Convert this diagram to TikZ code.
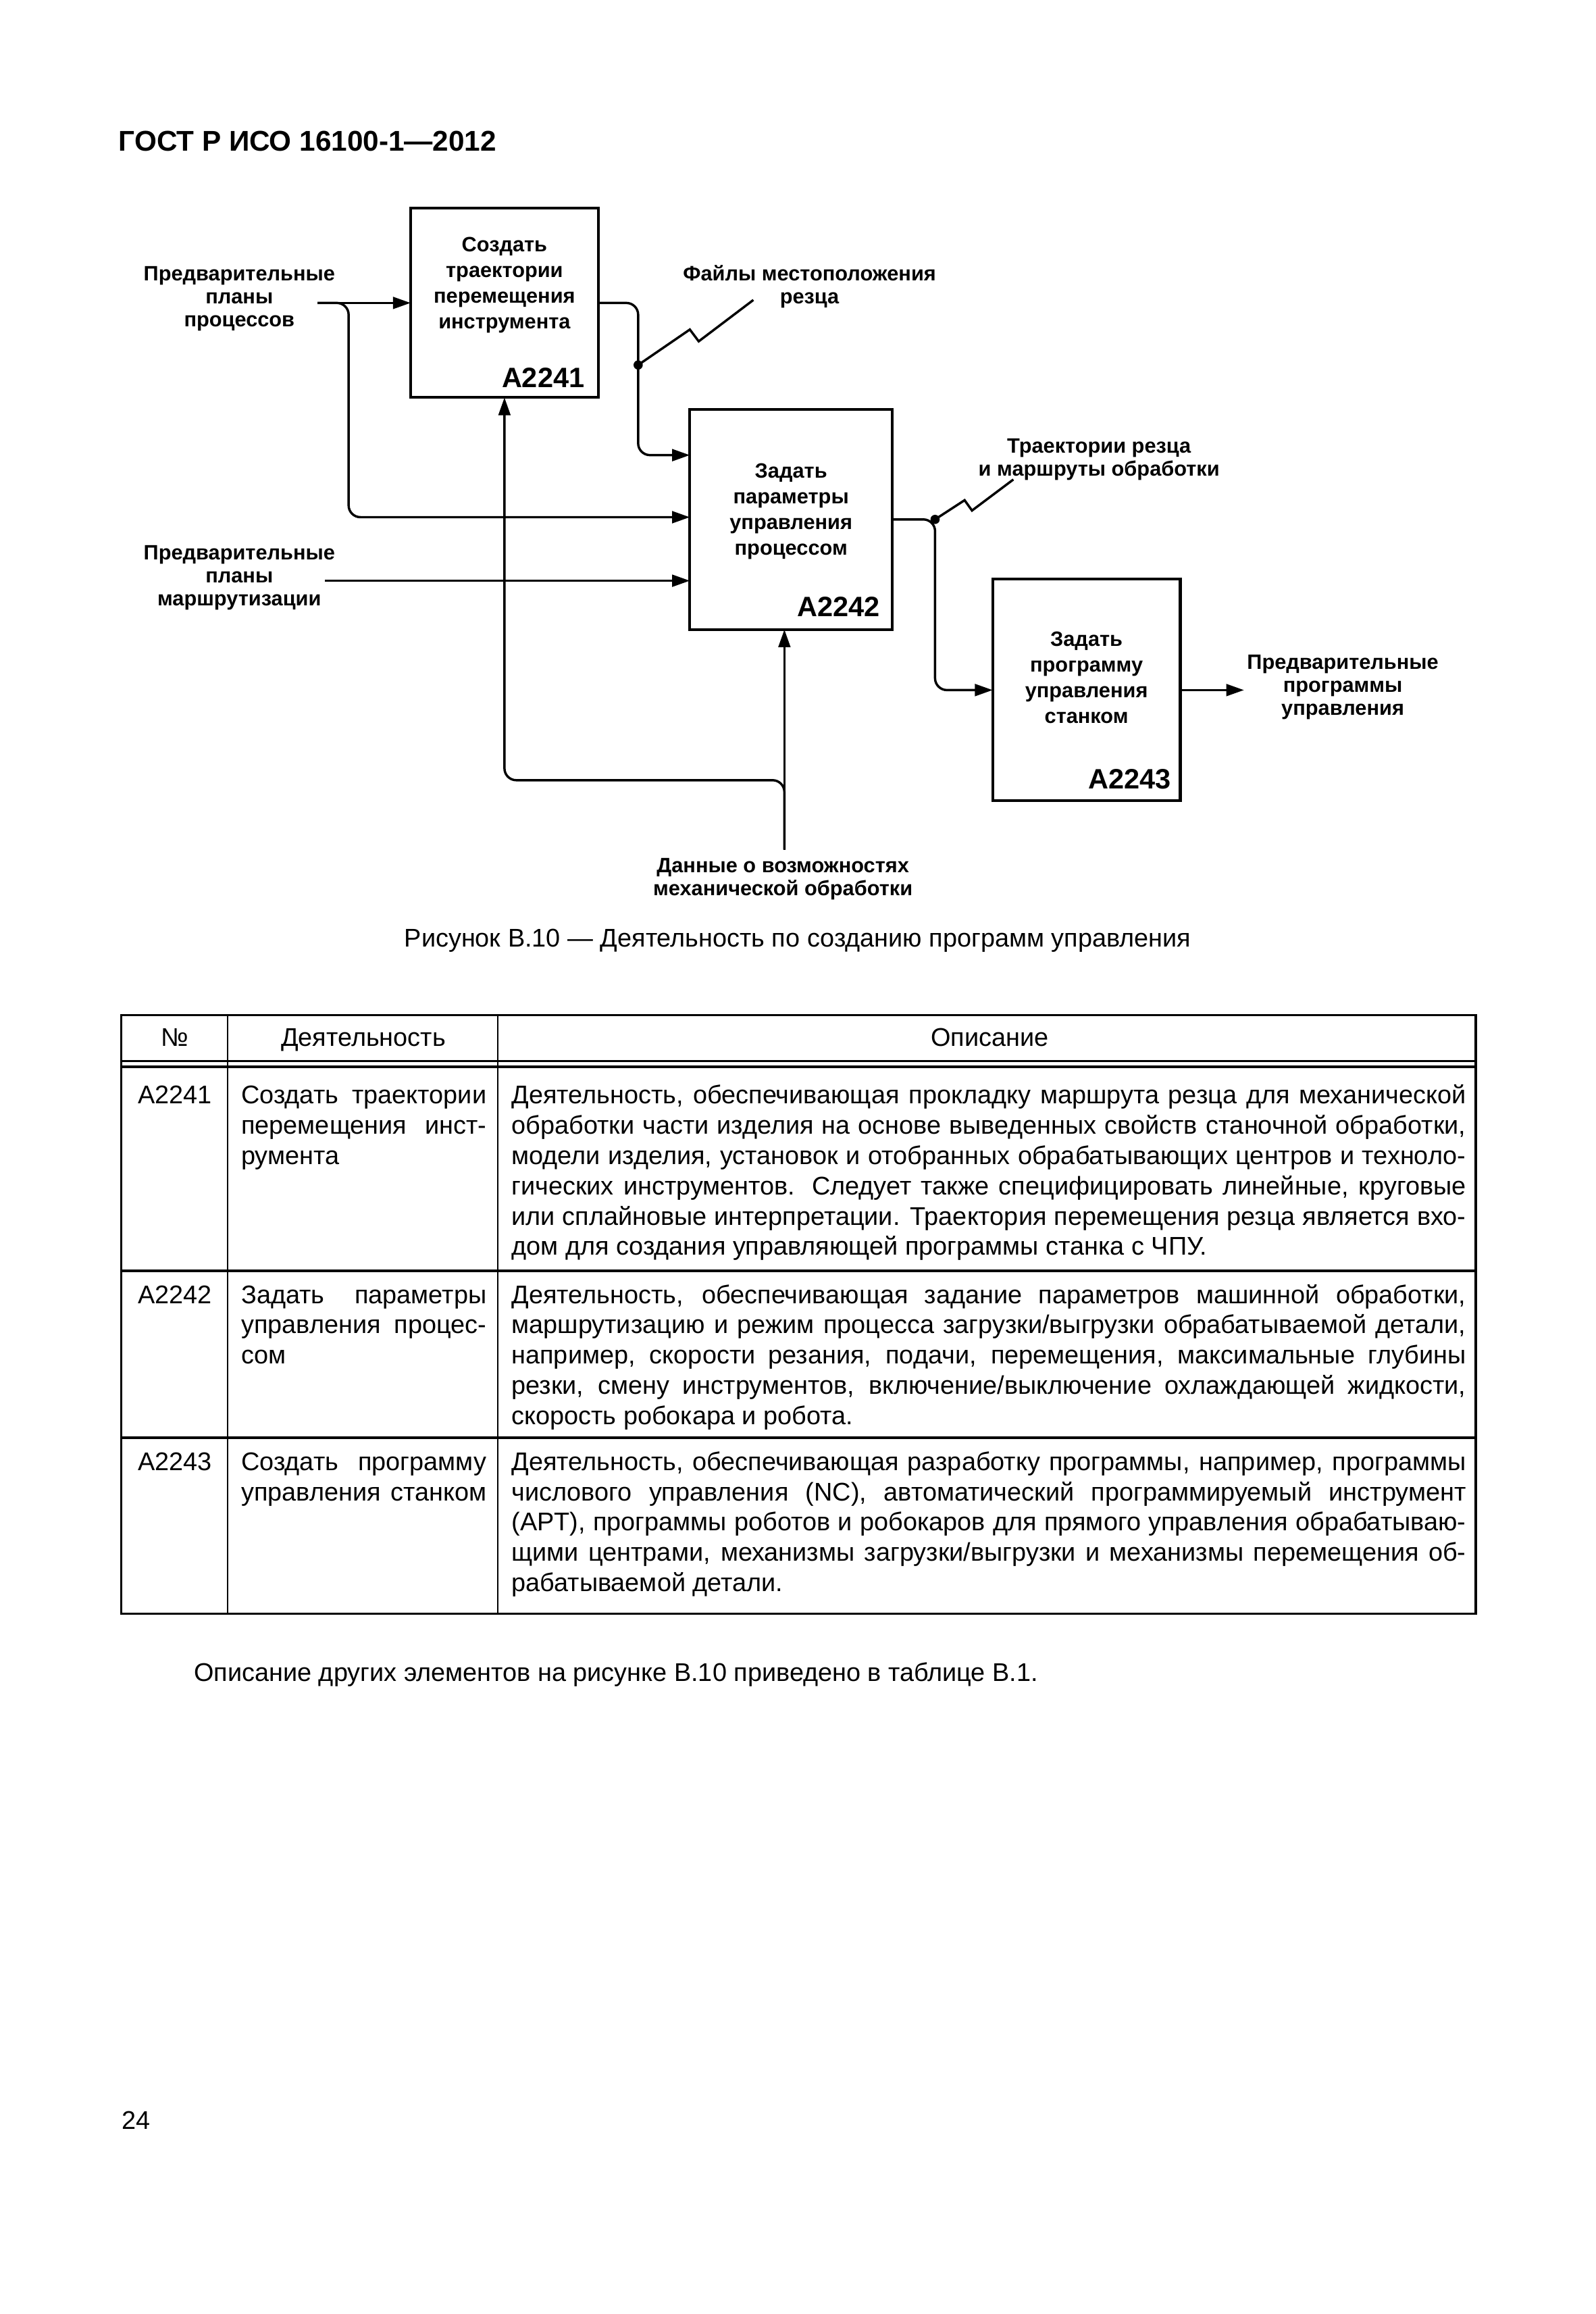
\documentclass[tikz,border=0pt]{standalone}
\usepackage{fontspec}
\setmainfont{Liberation Sans}
\usetikzlibrary{arrows.meta,calc,positioning}
\newcommand{\jl}[1]{\makebox[\linewidth][s]{#1}}
\tikzset{
	box/.style={draw, line width=1.05pt, inner sep=0pt, outer sep=0pt},
	boxtext/.style={font=\bfseries\fontsize{8}{9.85}\selectfont, align=center, inner sep=0pt},
	boxid/.style={font=\bfseries\fontsize{10.8}{13}\selectfont, anchor=base east, inner sep=0pt},
	flowlabel/.style={font=\bfseries\fontsize{8}{8.8}\selectfont, align=center, inner sep=1pt},
	wire/.style={line width=0.9pt, rounded corners=1.6mm},
	ar/.style={wire, -{Triangle[length=2.4mm,width=1.6mm]}},
	zig/.style={line width=0.9pt},
	dot/.style={circle, fill, inner sep=0pt, minimum size=1.25mm},
	txt/.style={font=\fontsize{9.85}{11.66}\selectfont, inner sep=0pt},
	cell/.style={txt, anchor=base west},
	tline/.style={line width=0.85pt},
	tcol/.style={line width=0.6pt}
}
\begin{document}
\begin{tikzpicture}[x=0.2mm, y=-0.2mm]
	\useasboundingbox[fill=white] (0,0) rectangle (1080,1566);
	\node[txt, font=\bfseries\fontsize{11}{13}\selectfont, anchor=base west] (hdr) at (80,102) {ГОСТ Р ИСО 16100-1—2012};

	% activity boxes
	\node[box, minimum width=25.4mm, minimum height=25.6mm] (b1) at (341.5,205) {};
	\node[box, minimum width=27.4mm, minimum height=29.8mm] (b2) at (535.5,351.5) {};
	\node[box, minimum width=25.4mm, minimum height=30mm] (b3) at (735.5,467) {};
	\node[boxtext] (b1t) at (341.5,193) {Создать\\траектории\\перемещения\\инструмента};
	\node[boxtext] (b2t) at (535.5,346) {Задать\\параметры\\управления\\процессом};
	\node[boxtext] (b3t) at (735.5,458.5) {Задать\\программу\\управления\\станком};
	\node[boxid] (b1id) at ($(b1.south east)+(-9,-7)$) {A2241};
	\node[boxid] (b2id) at ($(b2.south east)+(-8,-9)$) {A2242};
	\node[boxid] (b3id) at ($(b3.south east)+(-6,-8)$) {A2243};

	% arrow labels
	\node[flowlabel] (i1) at (162,202) {Предварительные\\планы\\процессов};
	\node[flowlabel] (i2) at (162,391) {Предварительные\\планы\\маршрутизации};
	\node[flowlabel] (m1) at (548,194) {Файлы местоположения\\резца};
	\node[flowlabel] (m2) at (744,311) {Траектории резца\\и маршруты обработки};
	\node[flowlabel] (o3) at (909,465) {Предварительные\\программы\\управления};
	\node[flowlabel] (c2) at (530,595) {Данные о возможностях\\механической обработки};

	\coordinate (p1) at (215,205);
	\coordinate (p2) at (220,393);
	\coordinate (p4) at (531,575);
	\coordinate (k1) at (236,350);
	\coordinate (k2) at (432,308);
	\coordinate (k4) at (531,528);
	\coordinate (t2) at (633,351.5);

	\draw[ar] (p1) -- (b1.west);
	\draw[ar] (p1) -| (k1) -- (k1 -| b2.west);
	\draw[ar] (p2) -- (p2 -| b2.west);
	\draw[ar] (b1.east) -| (k2) -- (k2 -| b2.west);
	\draw[ar] (b2.east) -| (t2 |- b3.west) -- (b3.west);
	\draw[ar] (b3.east) -- (b3.east -| o3.west);
	\draw[ar] (p4) -- (p4 |- b2.south);
	\draw[ar] (p4) -- (k4) -| (b1.south);

	% tunnel marks
	\node[dot] (d1) at (432,247) {};
	\node[dot] (d2) at (t2) {};
	\draw[zig] (d1.center) -- ++(35,-24) -- ++(6,8) -- ++(37,-28);
	\draw[zig] (d2.center) -- ++(20,-13) -- ++(5,7) -- ++(28,-21);

	\node[txt, anchor=base] (cap) at (540,641) {Рисунок В.10 — Деятельность по созданию программ управления};

	% table
	\draw[tline] (82,687) rectangle (999,1092);
	\foreach \y in {718,722,860,973}
		\draw[tline] (82,\y) -- (999,\y);
	\foreach \x in {154,337}
		\draw[tcol] (\x,687) -- (\x,1092);

	\node[txt, anchor=base] (h1) at (118.5,708) {№};
	\node[txt, anchor=base] (h2) at (246,708) {Деятельность};
	\node[txt, anchor=base] (h3) at (670,708) {Описание};

	\node[txt, anchor=base] (n1) at (118.5,747) {A2241};
	\node[cell] (a1) at (163,747) {\parbox[t]{33.2mm}{\jl{Создать траектории}\\\jl{перемещения инст-}\\румента}};
	\node[cell] (e1) at (346,747) {\parbox[t]{129.2mm}{%
		\jl{Деятельность, обеспечивающая прокладку маршрута резца для механической}\\
		\jl{обработки части изделия на основе выведенных свойств станочной обработки,}\\
		\jl{модели изделия, установок и отобранных обрабатывающих центров и техноло-}\\
		\jl{гических инструментов. Следует также специфицировать линейные, круговые}\\
		\jl{или сплайновые интерпретации. Траектория перемещения резца является вхо-}\\
		дом для создания управляющей программы станка с ЧПУ.}};

	\node[txt, anchor=base] (n2) at (118.5,882) {A2242};
	\node[cell] (a2) at (163,882) {\parbox[t]{33.2mm}{\jl{Задать параметры}\\\jl{управления процес-}\\сом}};
	\node[cell] (e2) at (346,882) {\parbox[t]{129.2mm}{%
		\jl{Деятельность, обеспечивающая задание параметров машинной обработки,}\\
		\jl{маршрутизацию и режим процесса загрузки/выгрузки обрабатываемой детали,}\\
		\jl{например, скорости резания, подачи, перемещения, максимальные глубины}\\
		\jl{резки, смену инструментов, включение/выключение охлаждающей жидкости,}\\
		скорость робокара и робота.}};

	\node[txt, anchor=base] (n3) at (118.5,995) {A2243};
	\node[cell] (a3) at (163,995) {\parbox[t]{33.2mm}{\jl{Создать программу}\\\jl{управления станком}}};
	\node[cell] (e3) at (346,995) {\parbox[t]{129.2mm}{%
		\jl{Деятельность, обеспечивающая разработку программы, например, программы}\\
		\jl{числового управления (NC), автоматический программируемый инструмент}\\
		\jl{(APT), программы роботов и робокаров для прямого управления обрабатываю-}\\
		\jl{щими центрами, механизмы загрузки/выгрузки и механизмы перемещения об-}\\
		рабатываемой детали.}};

	\node[cell] (note) at (131,1138) {Описание других элементов на рисунке В.10 приведено в таблице В.1.};
	\node[cell] (pg) at (82,1441) {24};
\end{tikzpicture}
\end{document}
